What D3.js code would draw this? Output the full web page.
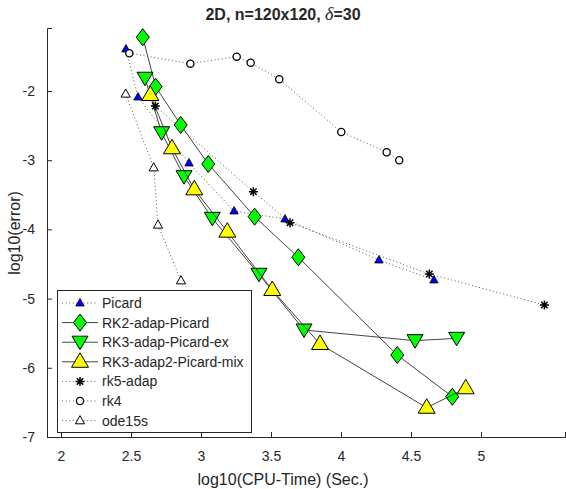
<!DOCTYPE html>
<html>
<head>
<meta charset="utf-8">
<script src="https://cdn.jsdelivr.net/npm/d3@7"></script>
<style>
  body { margin: 0; background: #fff; }
  svg text { font-family: "Liberation Sans", Arial, sans-serif; fill: #262626; }
</style>
</head>
<body>
<div id="chart"></div>
<script>
const width = 566, height = 489;

// Data (log10 CPU-time, log10 error)
const picardX = [2.464, 2.55, 2.914, 3.236, 3.6, 4.271, 4.664];
const picardY = [-1.393, -2.087, -3.04, -3.734, -3.85, -4.442, -4.731];
const rk2X = [2.584, 2.676, 2.855, 3.052, 3.383, 3.695, 4.402, 4.795];
const rk2Y = [-1.224, -1.938, -2.491, -3.055, -3.816, -4.403, -5.815, -6.418];
const rk3exX = [2.6, 2.719, 2.879, 3.081, 3.414, 3.736, 4.529, 4.826];
const rk3exY = [-1.816, -2.603, -3.238, -3.84, -4.649, -5.454, -5.608, -5.574];
const rk3mixX = [2.638, 2.793, 2.952, 3.188, 3.509, 3.85, 4.612, 4.891];
const rk3mixY = [-2.058, -2.828, -3.421, -4.033, -4.876, -5.656, -6.577, -6.296];
const rk5X = [2.674, 3.374, 3.636, 4.631, 5.453];
const rk5Y = [-2.217, -3.455, -3.903, -4.645, -5.092];
const rk4X = [2.488, 2.924, 3.255, 3.355, 3.559, 4.002, 4.326, 4.416];
const rk4Y = [-1.455, -1.605, -1.504, -1.591, -1.831, -2.592, -2.886, -3.001];
const odeX = [2.462, 2.662, 2.693, 2.857];
const odeY = [-2.043, -3.108, -3.936, -4.741];

const xTicks = [2, 2.5, 3, 3.5, 4, 4.5, 5];
const yTicks = [-7, -6, -5, -4, -3, -2];

// Marker shapes
const markerPaths = {
  triSmall: "M0,-4.5L4.2,3L-4.2,3Z",
  triOpen: "M0,-5L4.6,3.2L-4.6,3.2Z",
  triBig: "M0,-9L8.5,5.5L-8.5,5.5Z",
  triDown: "M0,7.5L-8,-6L8,-6Z",
  diamond: "M0,-8.5L6.5,0L0,8.5L-6.5,0Z",
  star: "M0,-4.5V4.5M-4.5,0H4.5M-3.2,-3.2L3.2,3.2M-3.2,3.2L3.2,-3.2"
};

const series = [
  { name: "Picard", xs: picardX, ys: picardY, dotted: true, marker: "triSmall", fill: "#0000ff", sw: 0.8 },
  { name: "RK2-adap-Picard", xs: rk2X, ys: rk2Y, dotted: false, marker: "diamond", fill: "#00ff00", sw: 1 },
  { name: "RK3-adap-Picard-ex", xs: rk3exX, ys: rk3exY, dotted: false, marker: "triDown", fill: "#00ff00", sw: 1 },
  { name: "RK3-adap2-Picard-mix", xs: rk3mixX, ys: rk3mixY, dotted: false, marker: "triBig", fill: "#ffff00", sw: 1 },
  { name: "rk5-adap", xs: rk5X, ys: rk5Y, dotted: true, marker: "star", fill: "none", sw: 1.5 },
  { name: "rk4", xs: rk4X, ys: rk4Y, dotted: true, marker: "circle", fill: "#fff", sw: 1.3 },
  { name: "ode15s", xs: odeX, ys: odeY, dotted: true, marker: "triOpen", fill: "#fff", sw: 1 }
];

const svg = d3.select("#chart")
  .append("svg")
    .attr("width", width)
    .attr("height", height);

// Scales
const xScale = d3.scaleLinear().domain([1.9, 5.6]).range([47, 565]);
const yScale = d3.scaleLinear().domain([-7, -1.09]).range([437, 28]);

// Axes (MATLAB style: ticks inside, no box)
const bottomAxis = d3.axisBottom(xScale)
  .tickValues(xTicks)
  .tickFormat(d3.format("~g"))
  .tickSize(-5)
  .tickPadding(14);
const xAxis = svg.append("g")
  .attr("transform", `translate(0, ${yScale(-7)})`)
  .call(bottomAxis);

const leftAxis = d3.axisLeft(yScale)
  .tickValues(yTicks)
  .tickFormat(d => d3.format("d")(d).replace("−", "-"))
  .tickSize(-5)
  .tickPadding(12);
const yAxis = svg.append("g")
  .attr("transform", `translate(${xScale(1.9)}, 0)`)
  .call(leftAxis);

[xAxis, yAxis].forEach(a => {
  a.select(".domain").attr("stroke", "#262626").attr("stroke-width", 1);
  a.selectAll(".tick line").attr("stroke", "#262626");
  a.selectAll(".tick text")
    .style("font-size", "14px")
    .style("font-family", "Liberation Sans, Arial, sans-serif")
    .attr("fill", "#262626");
});

// Axis labels
svg.append("text")
  .attr("x", 283)
  .attr("y", 485)
  .attr("text-anchor", "middle")
  .style("font-size", "16px")
  .text("log10(CPU-Time) (Sec.)");

svg.append("text")
  .attr("transform", `translate(20, 233) rotate(-90)`)
  .attr("text-anchor", "middle")
  .style("font-size", "16px")
  .text("log10(error)");

// Title
const title = svg.append("text")
  .attr("x", 283)
  .attr("y", 20)
  .attr("text-anchor", "middle")
  .style("font-size", "16px")
  .style("font-weight", "bold")
  .attr("fill", "#000");
title.append("tspan").text("2D, n=120x120,  ");
title.append("tspan")
  .style("font-family", "Liberation Serif, Times New Roman, serif")
  .style("font-style", "italic")
  .style("font-weight", "normal")
  .style("font-size", "18px")
  .text("δ");
title.append("tspan").text("=30");

// Draw marker helper
const drawMarker = (g, s, x, y) => {
  if (s.marker === "circle") {
    g.append("circle")
      .attr("cx", x).attr("cy", y).attr("r", 3.6)
      .attr("fill", s.fill).attr("stroke", "#000").attr("stroke-width", s.sw);
  } else {
    g.append("path")
      .attr("d", markerPaths[s.marker])
      .attr("transform", `translate(${x}, ${y})`)
      .attr("fill", s.fill)
      .attr("stroke", "#000")
      .attr("stroke-width", s.sw)
      .attr("stroke-linejoin", "miter");
  }
};

// Series lines and markers
const line = d3.line()
  .x(d => xScale(d[0]))
  .y(d => yScale(d[1]));

const plot = svg.append("g");
series.forEach(s => {
  const pts = s.xs.map((x, i) => [x, s.ys[i]]);
  const g = plot.append("g");
  g.append("path")
    .attr("d", line(pts))
    .attr("fill", "none")
    .attr("stroke", s.dotted ? "#555" : "#444")
    .attr("stroke-width", 1)
    .attr("stroke-dasharray", s.dotted ? "1,2.6" : null);
  pts.forEach(p => drawMarker(g, s, xScale(p[0]), yScale(p[1])));
});

// Legend
const legend = svg.append("g");
legend.append("rect")
  .attr("x", 57.5).attr("y", 290.5)
  .attr("width", 194).attr("height", 142)
  .attr("fill", "#fff")
  .attr("stroke", "#262626")
  .attr("stroke-width", 1);

series.forEach((s, i) => {
  const y = 303 + i * 19.6;
  const g = legend.append("g");
  g.append("line")
    .attr("x1", 62).attr("x2", 98)
    .attr("y1", y).attr("y2", y)
    .attr("stroke", s.dotted ? "#555" : "#444")
    .attr("stroke-width", 1)
    .attr("stroke-dasharray", s.dotted ? "1,2.6" : null);
  drawMarker(g, s, 80, y);
  g.append("text")
    .attr("x", 102)
    .attr("y", y + 5)
    .style("font-size", "14px")
    .attr("fill", "#000")
    .text(s.name);
});
</script>
</body>
</html>
